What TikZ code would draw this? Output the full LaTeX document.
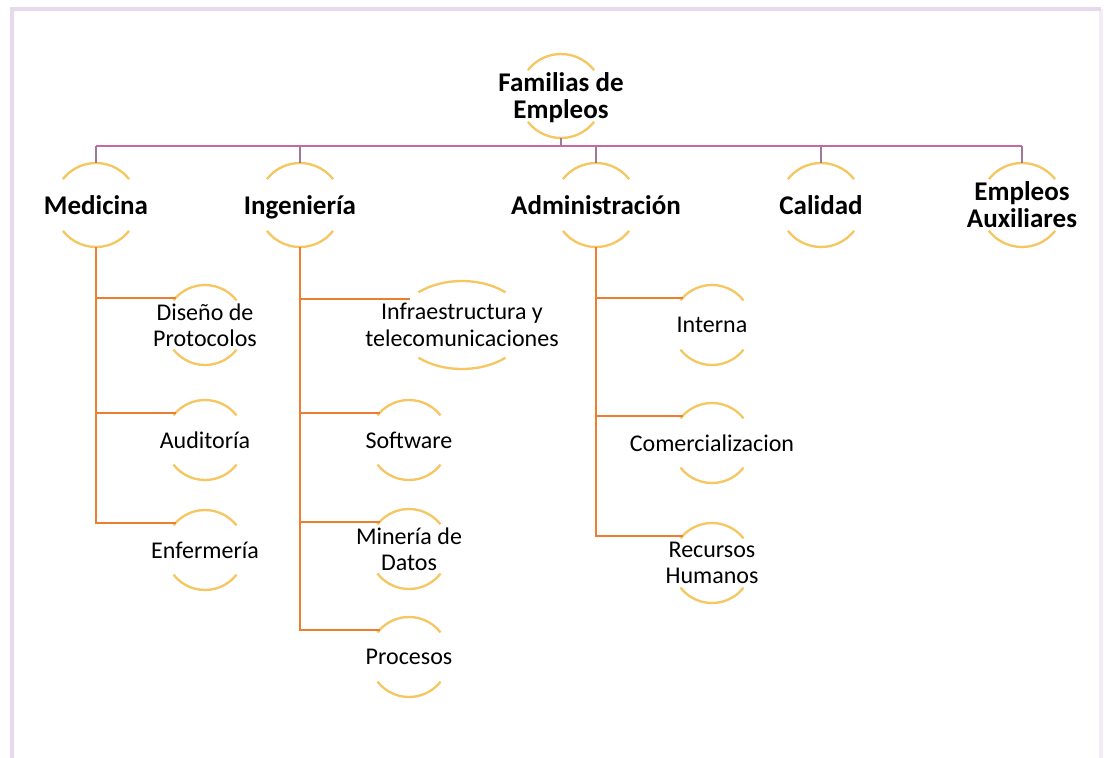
\documentclass[tikz,border=0pt]{standalone}
\usepackage{fontspec}
\setmainfont{Carlito}
\usetikzlibrary{shapes.geometric}
\definecolor{arcgold}{RGB}{246,198,96}
\definecolor{branchorange}{RGB}{237,125,49}
\definecolor{buspink}{RGB}{200,104,160}
\definecolor{dropmauve}{RGB}{160,120,152}
\definecolor{framelilac}{RGB}{232,216,238}
\tikzset{
  hub/.style={
    shape = circle,
    inner sep = 0pt,
    outer sep = 0pt,
    minimum size = #1
  },
  oval/.style={
    shape = ellipse,
    inner sep = 0pt,
    outer sep = 0pt,
    minimum width = 130pt,
    minimum height = 88pt
  },
  headlbl/.style={
    align = center,
    inner sep = 0pt,
    text depth = 0pt,
    font = \fontsize{27}{27}\selectfont\bfseries
  },
  leaflbl/.style={
    align = center,
    inner sep = 0pt,
    text depth = 0pt,
    font = \fontsize{24}{26.5}\selectfont
  },
}
\tikzset{
  arcline/.style={draw = arcgold, line width = 2.3pt},
  busline/.style={draw = buspink, line width = 2pt},
  dropline/.style={draw = dropmauve, line width = 1.8pt},
  branch/.style={draw = branchorange, line width = 2pt},
  frameline/.style={draw = framelilac, line width = 4pt},
}

\begin{document}
\begin{tikzpicture}[x=1pt,y=1pt]
  \useasboundingbox (0,0) rectangle (1104,-758);
  \fill[white] (0,0) rectangle (1104,-758);
  % frame round the chart
  \draw[frameline] (12,-770) -- (12,-9) -- (1101,-9);
  \draw[frameline,draw opacity=0.5] (1101,-9) -- (1101,-770);

  % top row
  \node[hub=84pt, label={[headlbl]center:{Familias de\\Empleos}}] (root) at (561,-96) {};
  \node[hub=84pt, label={[headlbl]center:Medicina}] (med) at (96,-205) {};
  \node[hub=84pt, label={[headlbl]center:Ingeniería}] (ing) at (300,-205) {};
  \node[hub=84pt, label={[headlbl]center:Administración}] (adm) at (596,-205) {};
  \node[hub=84pt, label={[headlbl]center:Calidad}] (cal) at (821,-205) {};
  \node[hub=84pt, label={[headlbl]center:{Empleos\\Auxiliares}}] (aux) at (1022,-205) {};

  % leaves
  \node[hub=80pt, label={[leaflbl]center:{Diseño de\\Protocolos}}] (dis) at (205,-325) {};
  \node[hub=80pt, label={[leaflbl]center:Auditoría}] (aud) at (205,-440) {};
  \node[hub=80pt, label={[leaflbl]center:Enfermería}] (enf) at (205,-550) {};
  \node[oval, label={[leaflbl]center:{Infraestructura y\\telecomunicaciones}}] (inf) at (462,-325) {};
  \node[hub=80pt, label={[leaflbl]center:Software}] (sof) at (409,-440) {};
  \node[hub=80pt, label={[leaflbl]center:{Minería de\\Datos}}] (min) at (409,-549) {};
  \node[hub=80pt, label={[leaflbl]center:Procesos}] (pro) at (409,-657) {};
  \node[hub=80pt, label={[leaflbl]center:Interna}] (int) at (712,-325) {};
  \node[hub=80pt, label={[leaflbl]center:Comercializacion}] (com) at (712,-443) {};
  \node[hub=80pt, label={[leaflbl]center:{Recursos\\Humanos}}] (rec) at (712,-563) {};

  % gold arcs above and below every label
  \foreach \n/\a/\b/\t in {root/42/42/38, med/42/42/38, ing/42/42/38, adm/42/42/38,
      cal/42/42/38, aux/42/42/38, dis/40/40/38, aud/40/40/38, enf/40/40/38,
      inf/65/44/48, sof/40/40/38, min/40/40/38, pro/40/40/38, int/40/40/38,
      com/40/40/38, rec/40/40/38}{
    \draw[arcline] ([shift={(\t:\a pt and \b pt)}]\n.center)
      arc[start angle=\t, end angle=180-\t, x radius=\a pt, y radius=\b pt];
    \draw[arcline] ([shift={(180+\t:\a pt and \b pt)}]\n.center)
      arc[start angle=180+\t, end angle=360-\t, x radius=\a pt, y radius=\b pt];
  }

  % bus under the root
  \coordinate (bus) at (0,-146);
  \draw[dropline] (root.south) -- (root.south |- bus);
  \draw[busline] (med.north |- bus) -- (aux.north |- bus);
  \foreach \n in {med,ing,adm,cal,aux}
    \draw[dropline] (\n.north |- bus) -- (\n.north);

  % branches down to the leaves
  \foreach \p/\c/\k in {med/dis/137, med/aud/137, med/enf/137, ing/inf/153,
      ing/sof/137, ing/min/137, ing/pro/137, adm/int/137, adm/com/137, adm/rec/137}
    \draw[branch] (\p.south) |- (\c.\k);
\end{tikzpicture}
\end{document}
